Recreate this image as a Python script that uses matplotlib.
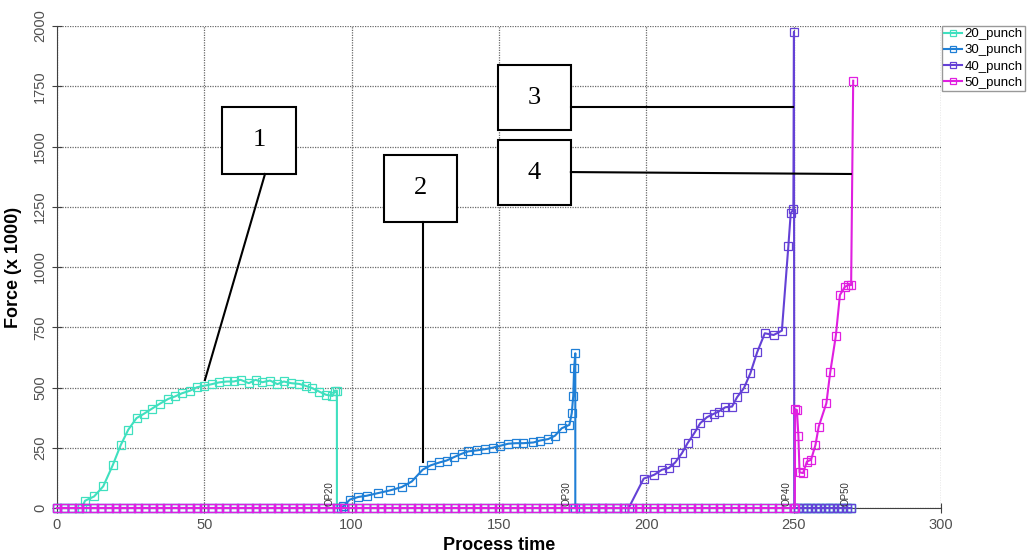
import matplotlib
matplotlib.use("Agg")
import matplotlib.pyplot as plt
from matplotlib.patches import Rectangle

# ── idle sample times (force = 0 outside each punch's working window) ──
T_IDLE = [0.0, 2.5, 5.0, 7.5, 10.0, 12.5, 15.0, 17.5, 20.0, 22.5, 25.0, 27.5,
          30.0, 32.5, 35.0, 37.5, 40.0, 42.5, 45.0, 47.5, 50.0, 52.5, 55.0, 57.5,
          60.0, 62.5, 65.0, 67.5, 70.0, 72.5, 75.0, 77.5, 80.0, 82.5, 85.0, 87.5,
          90.0, 92.5, 95.0, 97.5, 100.0, 102.5, 105.0, 107.5, 110.0, 112.5, 115.0,
          117.5, 120.0, 122.5, 125.0, 127.5, 130.0, 132.5, 135.0, 137.5, 140.0,
          142.5, 145.0, 147.5, 150.0, 152.5, 155.0, 157.5, 160.0, 162.5, 165.0,
          167.5, 170.0, 172.5, 175.0, 177.5, 180.0, 182.5, 185.0, 187.5, 190.0,
          192.5, 195.0, 197.5, 200.0, 202.5, 205.0, 207.5, 210.0, 212.5, 215.0,
          217.5, 220.0, 222.5, 225.0, 227.5, 230.0, 232.5, 235.0, 237.5, 240.0,
          242.5, 245.0, 247.5, 250.0, 251.5, 253.0, 254.5, 256.0, 257.5, 259.0,
          260.5, 262.0, 263.5, 265.0, 266.5, 268.0, 269.5]

# ── working windows (time, force x1000) ──
t20 = [8.5, 9.5, 12.6, 15.7, 18.9, 21.6, 24.2, 27.0, 29.5, 32.2, 34.8, 37.8, 40.1,
       42.4, 45.2, 47.5, 49.8, 52.6, 54.9, 57.7, 60.0, 62.3, 65.1, 67.4, 69.7,
       72.3, 74.8, 77.0, 79.5, 82.2, 84.4, 86.7, 89.0, 91.3, 93.5, 94.3, 95.0, 95.0]
f20 = [0, 30, 48, 90, 177, 260, 325, 373, 391, 412, 432, 453, 463,
       476, 487, 501, 507, 514, 521, 525, 525, 532, 518, 532, 522,
       529, 514, 525, 518, 515, 507, 497, 483, 470, 465, 487, 487, 0]

t30 = [96.5, 97.2, 99.4, 102.3, 105.1, 109.0, 113.0, 117.0, 120.4, 124.1, 126.8,
       129.8, 132.2, 134.7, 137.3, 139.6, 142.4, 145.2, 148.1, 150.3, 153.2,
       155.8, 158.3, 161.7, 163.9, 166.7, 169.0, 171.3, 173.9, 174.7, 175.2,
       175.5, 175.9, 175.9]
f30 = [0, 7, 35, 46, 51, 62, 73, 87, 110, 159, 177,
       189, 197, 211, 225, 235, 239, 244, 251, 258, 267,
       269, 269, 272, 280, 286, 300, 331, 345, 394, 465,
       580, 642, 0]

t40 = [194.0, 199.1, 202.7, 205.3, 207.6, 209.8, 212.1, 214.0, 216.4, 218.3,
       220.6, 222.9, 224.5, 226.8, 229.1, 230.8, 233.1, 235.3, 237.6, 240.2,
       243.2, 246.0, 248.2, 249.0, 249.9, 250.1, 250.2]
f40 = [0, 122, 138, 159, 166, 189, 228, 269, 313, 352,
       377, 391, 400, 418, 421, 460, 497, 559, 646, 725,
       718, 736, 1087, 1223, 1239, 1976, 0]

t50 = [250.4, 250.5, 251.1, 251.6, 252.0, 253.2, 254.5, 255.9, 257.4, 258.5,
       261.1, 262.4, 264.3, 265.7, 267.4, 268.5, 269.5, 270.2]
f50 = [0, 410, 407, 300, 148, 145, 193, 200, 262, 338,
       435, 563, 714, 884, 918, 925, 925, 1773]

SERIES = [("20_punch", t20, f20, "#3fe0bf"),
          ("30_punch", t30, f30, "#1f7fd6"),
          ("40_punch", t40, f40, "#6441d6"),
          ("50_punch", t50, f50, "#e01fe0")]

OP_LABELS = [("OP20", 92.4), ("OP30", 172.9), ("OP40", 247.7), ("OP50", 267.6)]

# callout boxes: (label, x0, x1, y0, y1, leader start, leader end)
CALLOUTS = [("1", 56.0, 81.1, 1386, 1664, (70.6, 1386), (50.2, 531)),
            ("2", 111.0, 135.7, 1187, 1465, (124.2, 1187), (124.2, 191)),
            ("3", 149.7, 174.4, 1568, 1838, (174.4, 1664), (249.7, 1664)),
            ("4", 149.7, 174.4, 1257, 1527, (174.4, 1394), (269.4, 1386))]


def trace(t_act, f_act):
    """idle zeros before the window, the working window, idle zeros after it."""
    start, end = t_act[0], t_act[-1]
    pre = [t for t in T_IDLE if t < start]
    post = [t for t in T_IDLE if t > end]
    return pre + t_act + post, [0] * len(pre) + f_act + [0] * len(post)


fig = plt.figure(figsize=(10.30, 5.56), dpi=100)
ax = fig.add_axes([0.0553, 0.0863, 0.8583, 0.8669])

for name, t, f, col in SERIES:
    x, y = trace(t, f)
    ax.plot(x, y, color=col, lw=1.5, marker="s", ms=5.5, mfc="none",
            mec=col, mew=0.9, label=name, zorder=3, clip_on=False)

ax.set_xlim(0, 300)
ax.set_ylim(0, 2000)
ax.set_xticks(range(0, 301, 50))
ax.set_yticks(range(0, 2001, 250))
ax.grid(True, color="#6a6a6a", linestyle=(0, (1, 1)), lw=0.9)
for s in ("top", "right"):
    ax.spines[s].set_visible(False)
for s in ("left", "bottom"):
    ax.spines[s].set_color("#404040")
ax.tick_params(direction="inout", length=7, color="#404040",
               labelcolor="#505050", labelsize=10.5)
for lab in ax.get_yticklabels():
    lab.set_rotation(90)
    lab.set_va("center")
    lab.set_family("Liberation Sans")
for lab in ax.get_xticklabels():
    lab.set_family("Liberation Sans")

ax.set_xlabel("Process time", family="Liberation Sans", fontweight="bold",
              fontsize=13, labelpad=4)
ax.set_ylabel("Force (x 1000)", family="Liberation Sans", fontweight="bold",
              fontsize=13, labelpad=8)

for txt, xpos in OP_LABELS:
    ax.text(xpos, 8, txt, rotation=90, fontsize=7, color="#333333",
            ha="center", va="bottom", family="Liberation Sans", zorder=4)

for txt, x0, x1, y0, y1, p0, p1 in CALLOUTS:
    ax.add_patch(Rectangle((x0, y0), x1 - x0, y1 - y0, fc="white", ec="black",
                           lw=1.5, zorder=5, clip_on=False))
    ax.text((x0 + x1) / 2, (y0 + y1) / 2, txt, ha="center", va="center",
            fontsize=19, family="Liberation Serif", zorder=6)
    ax.plot([p0[0], p1[0]], [p0[1], p1[1]], color="black", lw=1.5, zorder=5)

leg = fig.legend(loc="upper left", bbox_to_anchor=(942 / 1030, 1 - 26 / 556),
                 prop={"family": "Liberation Sans", "size": 9.5},
                 handlelength=1.4, handletextpad=0.15, labelspacing=0.3,
                 borderpad=0.15, borderaxespad=0.0, fancybox=False,
                 frameon=True, markerscale=0.8)
leg.get_frame().set_edgecolor("#808080")
leg.get_frame().set_linewidth(1.0)

fig.savefig("out.png", dpi=100)
